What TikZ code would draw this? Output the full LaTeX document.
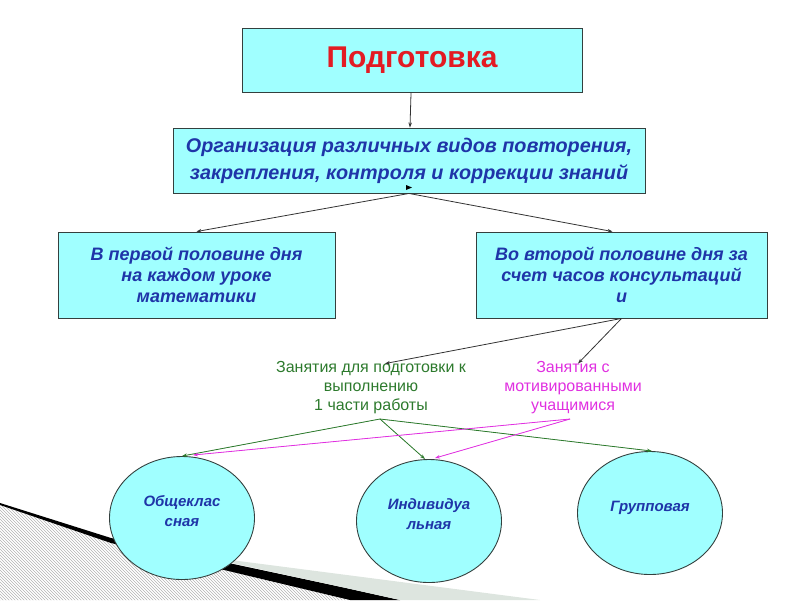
\documentclass[tikz,border=0pt]{standalone}
\usepackage{fontspec}
\setmainfont{Liberation Sans}
\usetikzlibrary{shapes.geometric,arrows.meta,patterns}
\definecolor{boxcyan}{HTML}{A0FFFF}
\definecolor{boxline}{HTML}{34403E}
\definecolor{txtblue}{HTML}{1F35A8}
\definecolor{prepred}{HTML}{E31B23}
\definecolor{grntxt}{HTML}{2D7A2D}
\definecolor{magtxt}{HTML}{E030E0}
\definecolor{bandgray}{HTML}{DDE5DF}
\tikzset{
  box/.style={draw=boxline,fill=boxcyan,line width=0.9pt,inner sep=0pt,align=center,
    text=txtblue,font=\bfseries\itshape\fontsize{18}{21}\selectfont},
  disc/.style={ellipse,draw=boxline,fill=boxcyan,line width=0.9pt,inner sep=0pt,
    minimum width=145pt,minimum height=123pt,align=center,text=txtblue,
    font=\bfseries\itshape\fontsize{15}{20}\selectfont},
  note/.style={align=center,inner sep=0pt,font=\fontsize{16}{19}\selectfont},
  link/.style={draw=black!80,line width=0.8pt,-{Stealth[length=5pt,width=3.5pt]}},
  glink/.style={link,draw=grntxt,fill=grntxt},
  mlink/.style={link,draw=magtxt,fill=magtxt}
}
\begin{document}
\begin{tikzpicture}[x=1pt,y=-1pt]
\useasboundingbox (0,0) rectangle (800,600);
% slide background
\fill[pattern=north west lines,pattern color=black!30] (0,505) -- (111,543) -- (350,600) -- (0,600) -- cycle;
\fill[black] (0,503) -- (111,538) -- (346,588) -- (400,600) -- (350,600) -- (111,543) -- (0,505) -- cycle;
\fill[bandgray] (200,556) -- (540,600) -- (400,600) -- (346,588) -- cycle;

\draw (412,60) node[box,minimum width=340pt,minimum height=64pt,text=prepred,
  font=\bfseries\fontsize{30}{34}\selectfont] (prep) {Подготовка};
\draw (409,160.5) node[box,minimum width=472pt,minimum height=65pt,
  font=\bfseries\itshape\fontsize{19.8}{27}\selectfont] (org)
  {Организация различных видов повторения,\\ закрепления, контроля и коррекции знаний};
\draw (196.5,275) node[box,minimum width=277pt,minimum height=86pt] (first)
  {В первой половине дня\\на каждом уроке\\математики};
\draw (621.5,275) node[box,minimum width=291pt,minimum height=86pt] (second)
  {Во второй половине дня за\\счет часов консультаций\\и};

\draw (371,388) node[note,text=grntxt] (prepw) {Занятия для подготовки к\\выполнению\\1 части работы};
\draw (573,388) node[note,text=magtxt] (motw) {Занятия с\\мотивированными\\учащимися};

\draw (182,518) node[disc] (whole) {Общеклас\\сная\\[-6pt]};
\draw (429,521) node[disc] (indiv) {Индивидуа\\льная\\[-6pt]};
\draw (650,513) node[disc] (group) {Групповая\\[-6pt]};

\draw[link] (prep) -- (org);
\fill (406,185) -- (412,187.5) -- (406,190) -- cycle;
\draw[link] (org.south) -- (first.north);
\draw[link] (org.south) -- ([xshift=-9pt]second.north);
\draw[link] (second.south) -- ([xshift=14pt,yshift=-2pt]prepw.north);
\draw[link] (second.south) -- ([xshift=5pt,yshift=-2pt]motw.north);

\coordinate (gtop) at (380,419);
\coordinate (mtop) at (570,419);
\draw[glink] (gtop) -- (whole.north);
\draw[glink] (gtop) -- ([xshift=-4pt]indiv.north);
\draw[glink] (gtop) -- ([xshift=2pt]group.north);
\draw[mlink] (mtop) -- ([xshift=11pt,yshift=1pt]whole.north);
\draw[mlink] (mtop) -- ([xshift=6pt,yshift=1pt]indiv.north);
\end{tikzpicture}
\end{document}
